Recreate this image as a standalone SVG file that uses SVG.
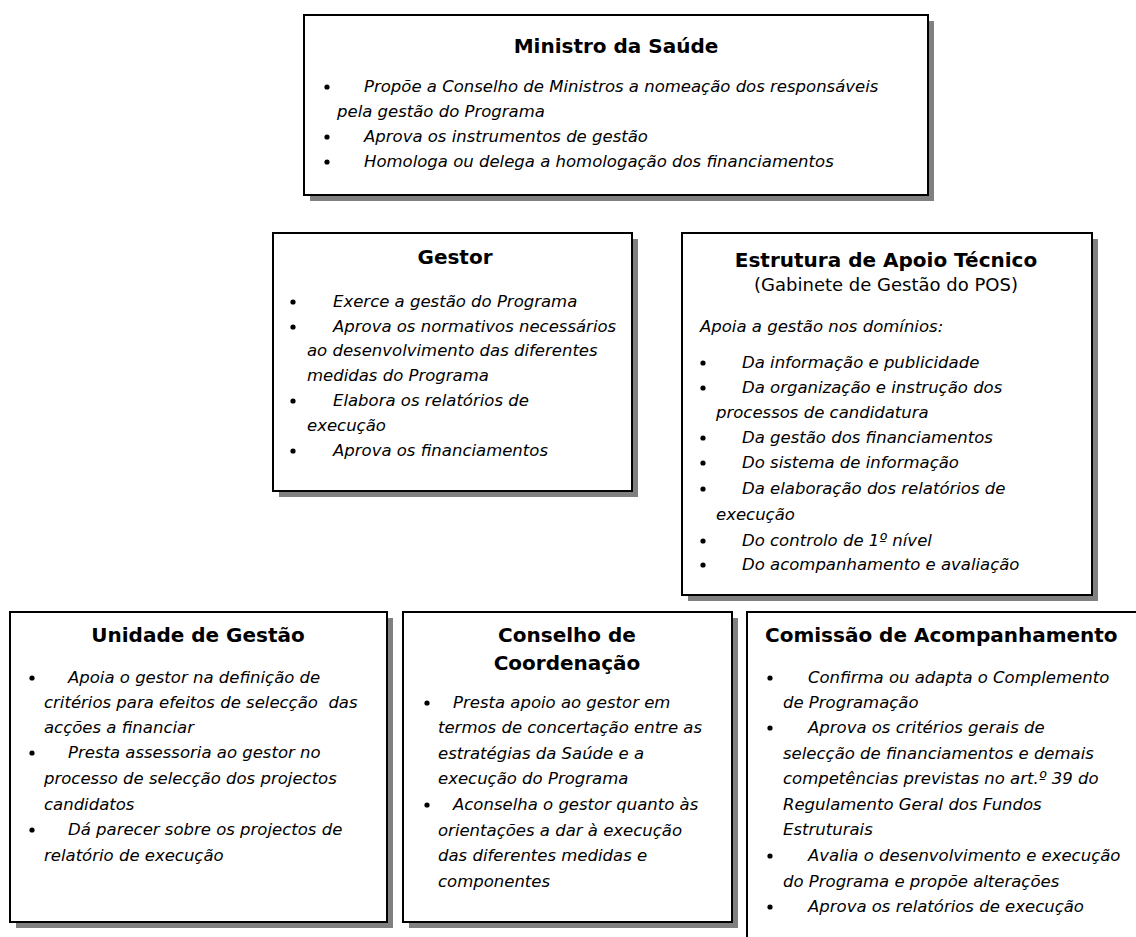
<svg xmlns="http://www.w3.org/2000/svg" width="1136" height="937" viewBox="0 0 1136 937">
<style>
.bg{fill:#ffffff}
.sh{fill:#808080}
.box{fill:#ffffff;stroke:#000000;stroke-width:2}
.t{font-family:"DejaVu Sans","Verdana",sans-serif;font-weight:bold;font-size:20px;fill:#000;text-anchor:middle}
.st{font-family:"DejaVu Sans","Verdana",sans-serif;font-size:18px;fill:#000;text-anchor:middle}
.b{font-family:"DejaVu Sans","Verdana",sans-serif;font-style:italic;font-size:16.5px;fill:#000}
.d{fill:#000}
</style>
<rect class="bg" x="0" y="0" width="1136" height="937"/>
<g id="connectors"></g>

<g id="ministro">
<rect class="sh" x="310" y="21" width="624" height="180"/>
<rect class="box" x="304" y="15" width="624" height="180"/>
<text class="t" x="616" y="53">Ministro da Saúde</text>
<circle class="d" cx="327" cy="87" r="2.6"/>
<text class="b" x="364" y="92">Propõe a Conselho de Ministros a nomeação dos responsáveis</text>
<text class="b" x="337" y="117">pela gestão do Programa</text>
<circle class="d" cx="327" cy="137" r="2.6"/>
<text class="b" x="364" y="142">Aprova os instrumentos de gestão</text>
<circle class="d" cx="327" cy="162" r="2.6"/>
<text class="b" x="364" y="167">Homologa ou delega a homologação dos financiamentos</text>
</g>

<g id="gestor">
<rect class="sh" x="279" y="239" width="359" height="258"/>
<rect class="box" x="273" y="233" width="359" height="258"/>
<text class="t" x="455" y="264">Gestor</text>
<circle class="d" cx="293" cy="302" r="2.6"/>
<text class="b" x="333" y="307">Exerce a gestão do Programa</text>
<circle class="d" cx="293" cy="327" r="2.6"/>
<text class="b" x="333" y="332">Aprova os normativos necessários</text>
<text class="b" x="307" y="356">ao desenvolvimento das diferentes</text>
<text class="b" x="307" y="381">medidas do Programa</text>
<circle class="d" cx="293" cy="401" r="2.6"/>
<text class="b" x="333" y="406">Elabora os relatórios de</text>
<text class="b" x="307" y="431">execução</text>
<circle class="d" cx="293" cy="451" r="2.6"/>
<text class="b" x="333" y="456">Aprova os financiamentos</text>
</g>

<g id="estrutura">
<rect class="sh" x="688" y="239" width="410" height="362"/>
<rect class="box" x="682" y="233" width="410" height="362"/>
<text class="t" x="886" y="267">Estrutura de Apoio Técnico</text>
<text class="st" x="886" y="291">(Gabinete de Gestão do POS)</text>
<text class="b" x="700" y="332">Apoia a gestão nos domínios:</text>
<circle class="d" cx="703" cy="363" r="2.6"/>
<text class="b" x="742" y="368">Da informação e publicidade</text>
<circle class="d" cx="703" cy="388" r="2.6"/>
<text class="b" x="742" y="393">Da organização e instrução dos</text>
<text class="b" x="716" y="418">processos de candidatura</text>
<circle class="d" cx="703" cy="438" r="2.6"/>
<text class="b" x="742" y="443">Da gestão dos financiamentos</text>
<circle class="d" cx="703" cy="463" r="2.6"/>
<text class="b" x="742" y="468">Do sistema de informação</text>
<circle class="d" cx="703" cy="489" r="2.6"/>
<text class="b" x="742" y="494">Da elaboração dos relatórios de</text>
<text class="b" x="716" y="520">execução</text>
<circle class="d" cx="703" cy="541" r="2.6"/>
<text class="b" x="742" y="546">Do controlo de 1º nível</text>
<circle class="d" cx="703" cy="565" r="2.6"/>
<text class="b" x="742" y="570">Do acompanhamento e avaliação</text>
</g>

<g id="unidade">
<rect class="sh" x="16" y="618" width="377" height="310"/>
<rect class="box" x="10" y="612" width="377" height="310"/>
<text class="t" x="198" y="642">Unidade de Gestão</text>
<circle class="d" cx="32" cy="678" r="2.6"/>
<text class="b" x="68" y="683">Apoia o gestor na definição de</text>
<text class="b" x="44" y="708" xml:space="preserve">critérios para efeitos de selecção  das</text>
<text class="b" x="44" y="733">acções a financiar</text>
<circle class="d" cx="32" cy="753" r="2.6"/>
<text class="b" x="68" y="758">Presta assessoria ao gestor no</text>
<text class="b" x="44" y="784">processo de selecção dos projectos</text>
<text class="b" x="44" y="810">candidatos</text>
<circle class="d" cx="32" cy="830" r="2.6"/>
<text class="b" x="68" y="835">Dá parecer sobre os projectos de</text>
<text class="b" x="44" y="861">relatório de execução</text>
</g>

<g id="conselho">
<rect class="sh" x="409" y="618" width="329" height="310"/>
<rect class="box" x="403" y="612" width="329" height="310"/>
<text class="t" x="567" y="642">Conselho de</text>
<text class="t" x="567" y="670">Coordenação</text>
<circle class="d" cx="427" cy="703" r="2.6"/>
<text class="b" x="453" y="708">Presta apoio ao gestor em</text>
<text class="b" x="438" y="733">termos de concertação entre as</text>
<text class="b" x="438" y="759">estratégias da Saúde e a</text>
<text class="b" x="438" y="784">execução do Programa</text>
<circle class="d" cx="427" cy="805" r="2.6"/>
<text class="b" x="453" y="810">Aconselha o gestor quanto às</text>
<text class="b" x="438" y="836">orientações a dar à execução</text>
<text class="b" x="438" y="861">das diferentes medidas e</text>
<text class="b" x="438" y="887">componentes</text>
</g>

<g id="comissao">
<rect class="box" x="747" y="612" width="420" height="360"/>
<text class="t" x="765" y="642" style="text-anchor:start">Comissão de Acompanhamento</text>
<circle class="d" cx="770" cy="678" r="2.6"/>
<text class="b" x="808" y="683">Confirma ou adapta o Complemento</text>
<text class="b" x="783" y="708">de Programação</text>
<circle class="d" cx="770" cy="728" r="2.6"/>
<text class="b" x="808" y="733">Aprova os critérios gerais de</text>
<text class="b" x="783" y="759">selecção de financiamentos e demais</text>
<text class="b" x="783" y="784">competências previstas no art.º 39 do</text>
<text class="b" x="783" y="810">Regulamento Geral dos Fundos</text>
<text class="b" x="783" y="835">Estruturais</text>
<circle class="d" cx="770" cy="856" r="2.6"/>
<text class="b" x="808" y="861">Avalia o desenvolvimento e execução</text>
<text class="b" x="783" y="887">do Programa e propõe alterações</text>
<circle class="d" cx="770" cy="907" r="2.6"/>
<text class="b" x="808" y="912">Aprova os relatórios de execução</text>
</g>
</svg>
